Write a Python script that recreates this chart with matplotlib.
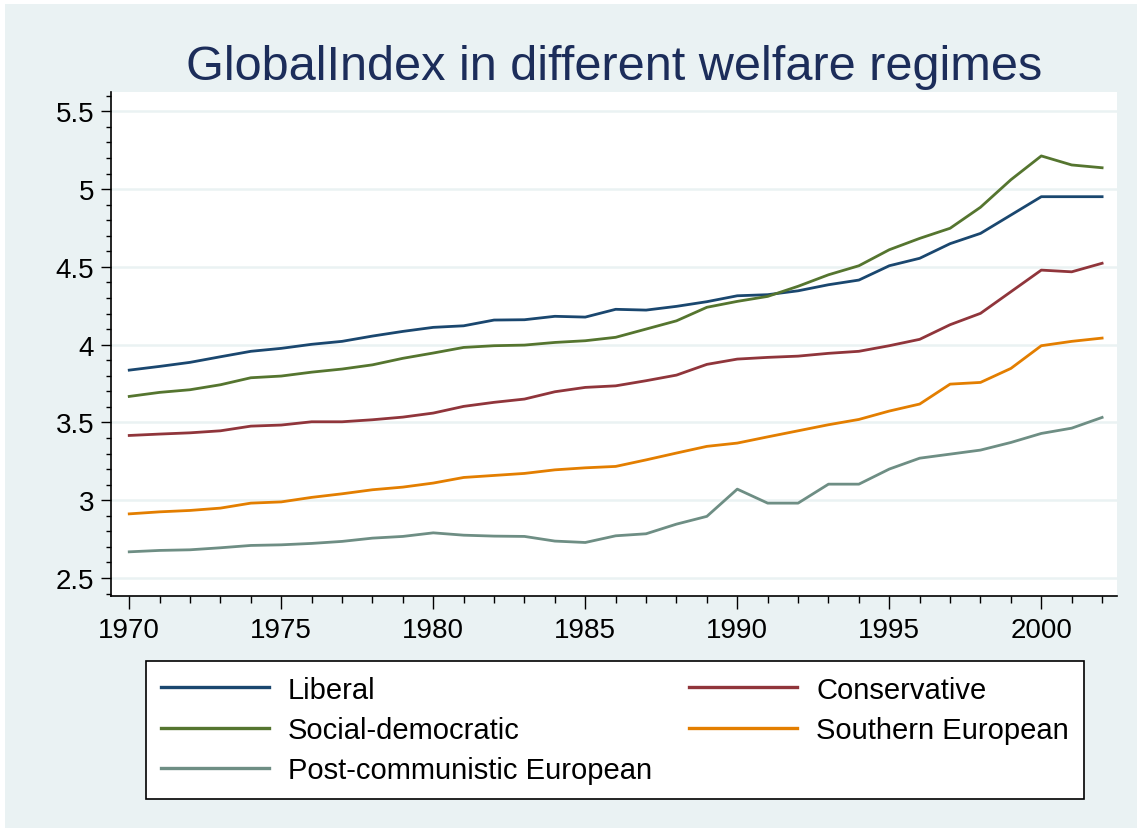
import numpy as np
import matplotlib
matplotlib.use("Agg")
import matplotlib.pyplot as plt
from matplotlib.patches import Rectangle
from matplotlib.ticker import MultipleLocator

plt.rcParams['font.family'] = ['Liberation Sans', 'DejaVu Sans']

# Data
years = np.arange(1970, 2003)

liberal = [3.836, 3.860, 3.886, 3.922, 3.957, 3.976, 4.002, 4.021, 4.055, 4.085,
           4.111, 4.121, 4.158, 4.160, 4.182, 4.177, 4.227, 4.222, 4.246, 4.276,
           4.314, 4.321, 4.346, 4.385, 4.415, 4.507, 4.555, 4.649, 4.715, 4.833,
           4.951, 4.951, 4.951]
social_dem = [3.667, 3.693, 3.710, 3.742, 3.787, 3.798, 3.823, 3.843, 3.870, 3.912,
              3.946, 3.982, 3.993, 3.997, 4.014, 4.025, 4.047, 4.100, 4.153, 4.240,
              4.278, 4.310, 4.375, 4.449, 4.507, 4.610, 4.683, 4.748, 4.883, 5.060,
              5.213, 5.155, 5.137]
conservative = [3.416, 3.425, 3.433, 3.446, 3.476, 3.483, 3.504, 3.504, 3.517, 3.534,
                3.560, 3.603, 3.629, 3.650, 3.697, 3.725, 3.735, 3.768, 3.804, 3.873,
                3.907, 3.918, 3.926, 3.944, 3.957, 3.993, 4.034, 4.128, 4.201, 4.340,
                4.479, 4.468, 4.523]
southern = [2.912, 2.925, 2.934, 2.949, 2.981, 2.989, 3.018, 3.041, 3.067, 3.084,
            3.110, 3.146, 3.159, 3.172, 3.195, 3.208, 3.217, 3.259, 3.303, 3.346,
            3.367, 3.407, 3.446, 3.485, 3.519, 3.573, 3.618, 3.746, 3.757, 3.847,
            3.993, 4.021, 4.042]
post_comm = [2.668, 2.677, 2.681, 2.694, 2.709, 2.713, 2.722, 2.735, 2.756, 2.767,
             2.790, 2.775, 2.769, 2.767, 2.737, 2.728, 2.771, 2.784, 2.846, 2.896,
             3.071, 2.981, 2.981, 3.103, 3.103, 3.200, 3.270, 3.296, 3.322, 3.371,
             3.429, 3.463, 3.532]

bg = '#EAF2F3'

fig = plt.figure(figsize=(11.37, 8.29), dpi=100, facecolor=bg)
# thin white strips along the top and left edge, as in the reference
fig.patches.append(Rectangle((0, 1 - 5/829), 1, 5/829, transform=fig.transFigure,
                             facecolor='white', edgecolor='none', zorder=-10))
fig.patches.append(Rectangle((0, 0), 5/1137, 1, transform=fig.transFigure,
                             facecolor='white', edgecolor='none', zorder=-10))

ax = fig.add_axes([111/1137, 1 - 597/829, 1006/1137, 504/829])
ax.set_facecolor('white')

lw = 2.0
l1, = ax.plot(years, liberal, color='#1A476F', lw=lw, label='Liberal')
l2, = ax.plot(years, social_dem, color='#55752F', lw=lw, label='Social-democratic')
l3, = ax.plot(years, conservative, color='#90353B', lw=lw, label='Conservative')
l4, = ax.plot(years, southern, color='#E37E00', lw=lw, label='Southern European')
l5, = ax.plot(years, post_comm, color='#6E8E84', lw=lw, label='Post-communistic European')

ax.set_xlim(1969.40, 2002.49)
ax.set_ylim(2.384, 5.624)
ax.set_xticks([1970, 1975, 1980, 1985, 1990, 1995, 2000])
ax.set_yticks([2.5, 3, 3.5, 4, 4.5, 5, 5.5])
ax.set_yticklabels(['2.5', '3', '3.5', '4', '4.5', '5', '5.5'])
ax.xaxis.set_minor_locator(MultipleLocator(1))
ax.yaxis.set_minor_locator(MultipleLocator(0.1))
ax.grid(axis='y', which='major', color=bg, lw=1.8, zorder=0)
ax.set_axisbelow(True)

for s in ['top', 'right']:
    ax.spines[s].set_visible(False)
for s in ['left', 'bottom']:
    ax.spines[s].set_linewidth(1.2)

ax.tick_params(axis='x', which='major', length=9, width=1, labelsize=20, pad=6)
ax.tick_params(axis='x', which='minor', length=4.8, width=1)
ax.tick_params(axis='y', which='major', length=7, width=1, labelsize=20, pad=5)
ax.tick_params(axis='y', which='minor', length=3.6, width=1)

ax.set_title('GlobalIndex in different welfare regimes', fontsize=35,
             color='#1C2D5A', pad=9)

leg = fig.legend(handles=[l1, l2, l5, l3, l4], ncol=2, loc='upper left',
                 bbox_to_anchor=(146/1137, 1 - 662/829), fontsize=21,
                 frameon=True, fancybox=False, edgecolor='black',
                 facecolor='white', framealpha=1,
                 handlelength=3.7, handletextpad=0.66, columnspacing=1.28,
                 labelspacing=0.42, borderpad=0.5, borderaxespad=0)
leg.get_frame().set_linewidth(1.2)
for line in leg.get_lines():
    line.set_linewidth(2.4)

fig.savefig('out.png', dpi=100, facecolor=fig.get_facecolor())
